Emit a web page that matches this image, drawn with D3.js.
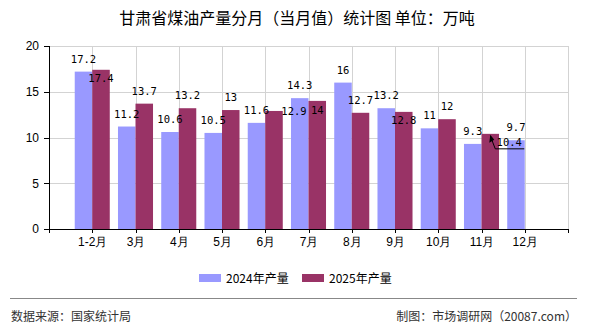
<!DOCTYPE html>
<meta charset="utf-8">
<title>甘肃省煤油产量分月（当月值）统计图</title>
<script src="https://cdn.jsdelivr.net/npm/d3@7/dist/d3.min.js"></script>
<style>
  body { margin: 0; background: #fff; }
  svg { display: block; font-family: "Noto Sans CJK SC", "DejaVu Sans", sans-serif; }
  .grid line { stroke: #d3d3d3; stroke-width: 1; }
  .axis path, .axis line { stroke: #000; shape-rendering: crispEdges; }
  .axis text { font-size: 12px; fill: #000; }
  .val { font-family: "DejaVu Sans Mono", "Liberation Mono", monospace; font-size: 10.5px; fill: #000; }
</style>
<body>
<script>
// data
var months = ["1-2月", "3月", "4月", "5月", "6月", "7月", "8月", "9月", "10月", "11月", "12月"];
var values2024 = [17.2, 11.2, 10.6, 10.5, 11.6, 14.3, 16, 13.2, 11, 9.3, 9.7];
var values2025 = [17.4, 13.7, 13.2, 13, 12.9, 14, 12.7, 12.8, 12, 10.4, null];
var seriesNames = ["2024年产量", "2025年产量"];
var yTicks = [0, 5, 10, 15, 20];

// label nudges for the 2025 series (the original moved a few to avoid overlaps)
var shift2025 = [[0, 21], [0, 0], [0, 0], [0, 0], [20, 13], [0, 22], [0, 0], [0, 21], [0, 0], [19, 21], [0, 0]];

var colors = ["#9999ff", "#993366"];
var W = 590, H = 330;
var margin = {top: 46, right: 22, bottom: 101, left: 49};
var width = W - margin.left - margin.right,
    height = H - margin.top - margin.bottom;

var svg = d3.select("body").append("svg")
    .attr("width", W)
    .attr("height", H);

// title
svg.append("text")
    .attr("x", 297).attr("y", 24)
    .attr("text-anchor", "middle")
    .style("font-size", "16px")
    .text("甘肃省煤油产量分月（当月值）统计图 单位：万吨");

var g = svg.append("g")
    .attr("transform", "translate(" + margin.left + "," + margin.top + ")");

// x: points with an empty slot at each end so the ticks hit both edges
var slots = ["_a"].concat(months, ["_b"]);
var x = d3.scalePoint().domain(slots).range([0, width]);
var y = d3.scaleLinear().domain([0, 20]).range([height, 0]);
var barW = x.step() * 0.405;

// grid
var grid = g.append("g").attr("class", "grid");
grid.selectAll(".h").data(yTicks.slice(1)).enter().append("line")
    .attr("x1", 0).attr("x2", width)
    .attr("y1", function(d) { return Math.round(y(d)) + 0.5; })
    .attr("y2", function(d) { return Math.round(y(d)) + 0.5; });
grid.selectAll(".v").data(slots.slice(1)).enter().append("line")
    .attr("y1", 0).attr("y2", height)
    .attr("x1", function(d) { return Math.round(x(d)) + 0.5; })
    .attr("x2", function(d) { return Math.round(x(d)) + 0.5; });

// bars
var all = [values2024, values2025];
all.forEach(function(vals, s) {
  g.selectAll(".bar" + s)
    .data(vals.map(function(v, i) { return {m: months[i], v: v, i: i}; }).filter(function(d) { return d.v != null; }))
    .enter().append("rect")
    .attr("x", function(d) { return s === 0 ? x(d.m) - barW : x(d.m); })
    .attr("width", barW)
    .attr("y", function(d) { return y(d.v); })
    .attr("height", function(d) { return height - y(d.v); })
    .attr("fill", colors[s]);
});

// axes
g.append("g").attr("class", "axis")
    .attr("transform", "translate(0," + height + ")")
    .call(d3.axisBottom(x).tickSize(4).tickPadding(4)
      .tickFormat(function(d) { return d.charAt(0) === "_" ? "" : d; }))
    .call(function(a) { a.select(".domain").attr("d", "M0.5,0.5H" + width); });

g.append("g").attr("class", "axis")
    .call(d3.axisLeft(y).tickValues(yTicks).tickSize(5).tickPadding(5))
    .call(function(a) { a.select(".domain").attr("d", "M0.5,0V" + height); });

// value labels
all.forEach(function(vals, s) {
  vals.forEach(function(v, i) {
    if (v == null) return;
    var cx = s === 0 ? x(months[i]) - barW / 2 : x(months[i]) + barW / 2;
    var sh = s === 1 ? shift2025[i] : [0, 0];
    g.append("text").attr("class", "val")
      .attr("x", cx + sh[0])
      .attr("y", y(v) - 9 + sh[1])
      .attr("text-anchor", "middle")
      .text(v);
  });
});

// leader for the moved 11月 label
var lx = x("11月") + barW / 2, ly = y(10.4);
g.append("path")
    .attr("d", "M" + lx + "," + (ly + 2) + "L" + (lx + 5) + "," + (ly + 15) + "H" + (lx + 34))
    .attr("fill", "none").attr("stroke", "#000");
g.append("path")
    .attr("d", "M" + lx + "," + (ly + 1) + "l-1,8l5,-3z")
    .attr("fill", "#000");

// legend
var legend = svg.append("g").attr("transform", "translate(199,274)");
seriesNames.forEach(function(n, i) {
  var lg = legend.append("g").attr("transform", "translate(" + (i * 103) + ",0)");
  lg.append("rect").attr("width", 22).attr("height", 8).attr("fill", colors[i]);
  lg.append("text").attr("x", 27).attr("y", 8.5)
    .style("font-size", "12px").text(n);
});

// footer
svg.append("line")
    .attr("x1", 10).attr("x2", 577).attr("y1", 298.5).attr("y2", 298.5)
    .attr("stroke", "#888");
svg.append("text").attr("x", 11).attr("y", 321)
    .style("font-size", "12px").attr("fill", "#333")
    .text("数据来源：国家统计局");
svg.append("text").attr("x", 577).attr("y", 321)
    .attr("text-anchor", "end")
    .style("font-size", "12px").attr("fill", "#333")
    .text("制图：市场调研网（20087.com）");
</script>
</body>
